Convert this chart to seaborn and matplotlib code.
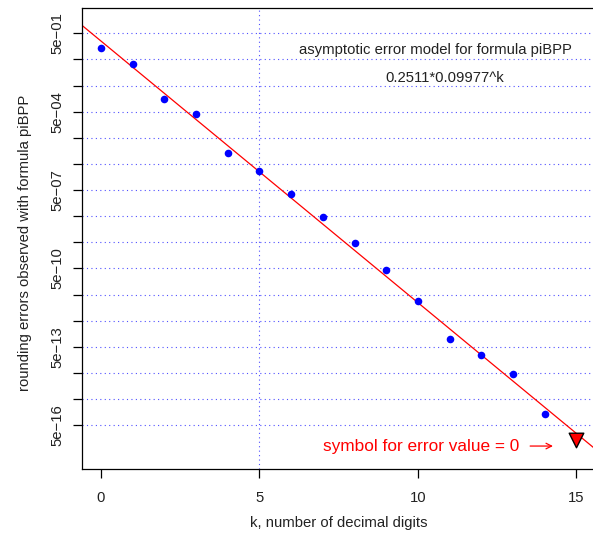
import numpy as np
import pandas as pd
import matplotlib
matplotlib.use("Agg")
import matplotlib.pyplot as plt
from matplotlib.ticker import FixedLocator, FixedFormatter, NullLocator
import seaborn as sns

# observed rounding errors for formula piBPP, by number of decimal digits k
digits = [0, 1, 2, 3, 4, 5, 6, 7, 8, 9, 10, 11, 12, 13, 14]
errors = [1.33e-01, 3.43e-02, 1.49e-03, 4.19e-04, 1.31e-05, 2.62e-06,
          3.64e-07, 4.79e-08, 4.59e-09, 4.37e-10, 2.77e-11, 1.03e-12,
          2.44e-13, 4.70e-14, 1.31e-15]

# k where the observed error is exactly 0, shown at a floor level
zero_digits = [15]
zero_level = [1.36e-16]

# fitted asymptotic model: a * b^k
model_a = 0.2511
model_b = 0.09977

# y-axis ticks: 5e-01 ... 5e-16, labelled every third decade
ytick_exponents = list(range(1, 17))
ylabel_exponents = [1, 4, 7, 10, 13, 16]
xticks = [0, 5, 10, 15]

FS = 10.7

sns.set_style("ticks")
plt.rcParams["font.family"] = ["Liberation Sans", "DejaVu Sans"]

fig = plt.figure(figsize=(5.93, 5.42), dpi=100)
ax = fig.add_axes([0.1383, 0.1347, 0.8658, 0.8506])
ax.set_yscale("log")
ax.set_xlim(-0.6, 15.6)
ax.set_ylim(10 ** -16.975, 10 ** 0.667)

# grid: dotted blue at every y tick, one vertical line at k = 5
yticks = [5 * 10.0 ** -e for e in ytick_exponents]
for yv in yticks:
    ax.axhline(yv, color="#5050ff", lw=0.8, ls=(0, (1, 3)), zorder=0)
ax.axvline(5, color="#5050ff", lw=0.8, ls=(0, (1, 3)), zorder=0)

# model line across the full x range
kk = np.linspace(-0.6, 15.6, 200)
model_df = pd.DataFrame({"k": kk, "err": model_a * model_b ** kk})
sns.lineplot(data=model_df, x="k", y="err", color="red", lw=0.9, ax=ax, zorder=2)

obs_df = pd.DataFrame({"k": digits, "err": errors})
sns.scatterplot(data=obs_df, x="k", y="err", color="blue", s=30, linewidth=0,
                ax=ax, zorder=3)

zero_df = pd.DataFrame({"k": zero_digits, "err": zero_level})
sns.scatterplot(data=zero_df, x="k", y="err", marker="v", color="red",
                edgecolor="black", linewidth=1.0, s=110, ax=ax, zorder=4)

# ticks
ax.yaxis.set_major_locator(FixedLocator(yticks))
ax.yaxis.set_major_formatter(FixedFormatter(
    [f"5e\u2212{e:02d}" if e in ylabel_exponents else "" for e in ytick_exponents]))
ax.yaxis.set_minor_locator(NullLocator())
ax.set_xticks(xticks)
ax.set_xticklabels([str(v) for v in xticks])
ax.tick_params(axis="both", direction="out", length=6.5, width=0.9,
               color="black", labelsize=FS, labelcolor="#222222")
ax.tick_params(axis="x", pad=9.5)
ax.tick_params(axis="y", pad=6)
for lab in ax.get_yticklabels():
    lab.set_rotation(90)
    lab.set_va("center")

for side in ["left", "bottom", "top", "right"]:
    ax.spines[side].set_color("black")
    ax.spines[side].set_linewidth(0.9)

ax.set_xlabel("k, number of decimal digits", fontsize=FS, color="#222222", va="center")
ax.set_ylabel("rounding errors observed with formula piBPP", fontsize=FS,
              color="#222222", va="center")
ax.xaxis.set_label_coords(0.5, -0.118)
ax.yaxis.set_label_coords(-0.111, 0.491)

# model annotation
ax.text(10.54, 0.115, "asymptotic error model for formula piBPP",
        ha="center", va="center", fontsize=FS, color="#222222")
ax.text(10.85, 9.7e-3, f"{model_a}*{model_b}^k",
        ha="center", va="center", fontsize=FS, color="#222222")

# legend note for the zero-error symbol
ax.text(7.0, 8.0e-17, "symbol for error value = 0", ha="left", va="center",
        fontsize=12.4, color="red")
ax.annotate("", xy=(14.26, 8.0e-17), xytext=(13.54, 8.0e-17),
            arrowprops=dict(arrowstyle="->", color="red", lw=0.9,
                            shrinkA=0, shrinkB=0))

fig.savefig("out.png", dpi=100)
